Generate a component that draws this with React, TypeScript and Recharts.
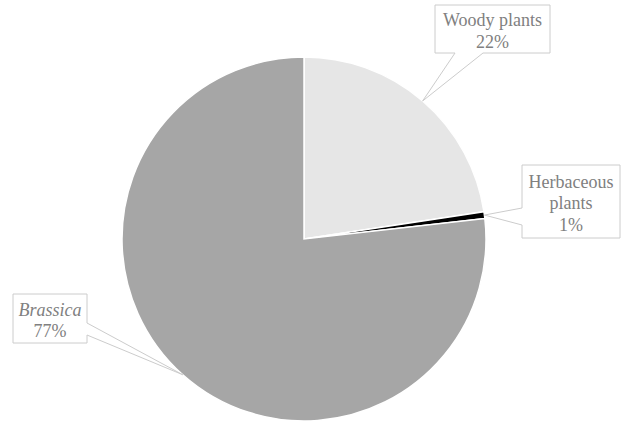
import React from 'react';
import { PieChart, Pie, Cell } from 'recharts';

const NAMES = ['Woody plants', 'Herbaceous plants', 'Brassica'];
const VALUES = [22.6, 0.6, 76.8];
const PCT_LABELS = ['22%', '1%', '77%'];
const LABEL_LINES = [['Woody plants'], ['Herbaceous', 'plants'], ['Brassica']];
const COLORS = ['#e6e6e6', '#000000', '#a6a6a6'];

// callout box placement (page px) and which side the pointer leaves from
const BOXES = [
    { x: 435, y: 5, w: 115, h: 48, side: 'bottom', b0: 455, b1: 483, italic: false },
    { x: 522, y: 165, w: 98, h: 73, side: 'left', b0: 208, b1: 225, italic: false },
    { x: 13, y: 294, w: 74, h: 49, side: 'right', b0: 323, b1: 335, italic: true },
];

const data = NAMES.map((name, i) => ({ name, value: VALUES[i] }));
const RAD = Math.PI / 180;
const SERIF = 'Liberation Serif';

function calloutPath(b: any, tx: number, ty: number) {
    const { x, y, w, h, side, b0, b1 } = b;
    const r = x + w, btm = y + h;
    if (side === 'bottom') {
        return `M${x},${y} L${r},${y} L${r},${btm} L${b1},${btm} L${tx},${ty} L${b0},${btm} L${x},${btm} Z`;
    }
    if (side === 'left') {
        return `M${x},${y} L${r},${y} L${r},${btm} L${x},${btm} L${x},${b1} L${tx},${ty} L${x},${b0} Z`;
    }
    return `M${x},${y} L${r},${y} L${r},${b0} L${tx},${ty} L${r},${b1} L${r},${btm} L${x},${btm} Z`;
}

function renderLabel(props: any) {
    const { cx, cy, midAngle, outerRadius, index } = props;
    const b = BOXES[index];
    // pointer tip sits on the rim at the slice's mid angle
    const tx = cx + outerRadius * Math.cos(-midAngle * RAD);
    const ty = cy + outerRadius * Math.sin(-midAngle * RAD);
    const lines = [...LABEL_LINES[index], PCT_LABELS[index]];
    const lh = 21.5;
    const top = b.y + b.h / 2 - (lines.length * lh) / 2;
    return (
        <g key={`lbl-${index}`}>
            <path d={calloutPath(b, tx, ty)} fill="#ffffff" stroke="#cccccc" strokeWidth={1} />
            {lines.map((t, j) => (
                <text
                    key={j}
                    x={b.x + b.w / 2}
                    y={top + lh * (j + 1) - 3}
                    textAnchor="middle"
                    fill="#808080"
                    fontFamily={SERIF}
                    fontSize={18}
                    fontStyle={b.italic && j < lines.length - 1 ? 'italic' : 'normal'}
                >
                    {t}
                </text>
            ))}
        </g>
    );
}

export default function App() {
    return (
        <div style={{ width: 622, height: 421 }}>
            <style>{`body{margin:0}`}</style>
            <PieChart width={622} height={421} margin={{ top: 0, right: 0, bottom: 0, left: 0 }}>
                <Pie
                    data={data}
                    dataKey="value"
                    nameKey="name"
                    cx={304}
                    cy={239}
                    outerRadius={182}
                    startAngle={90}
                    endAngle={-270}
                    stroke="#ffffff"
                    strokeWidth={1.5}
                    label={renderLabel}
                    labelLine={false}
                    isAnimationActive={false}
                >
                    {data.map((d, i) => (
                        <Cell key={d.name} fill={COLORS[i]} />
                    ))}
                </Pie>
            </PieChart>
        </div>
    );
}
